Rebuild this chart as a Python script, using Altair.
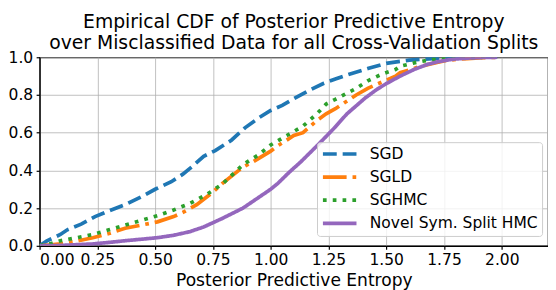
import altair as alt
import pandas as pd

series_names = ["SGD", "SGLD", "SGHMC", "Novel Sym. Split HMC"]
series_colors = ["#1f77b4", "#ff7f0e", "#2ca02c", "#9467bd"]
series_dashes = [[14, 6], [24, 6, 3.75, 6], [3.75, 6.2], [1, 0]]

sgd_x = [0.0, 0.03, 0.09, 0.12, 0.18, 0.24, 0.30, 0.37, 0.44, 0.50, 0.57, 0.62, 0.66, 0.71, 0.76, 0.83,
         0.89, 0.95, 1.0, 1.05, 1.10, 1.17, 1.23, 1.28, 1.34, 1.42, 1.50, 1.60, 1.70, 1.80, 1.90, 1.98]
sgd_y = [0.0, 0.025, 0.06, 0.085, 0.115, 0.155, 0.185, 0.218, 0.26, 0.30, 0.34, 0.38, 0.42, 0.475, 0.505, 0.56,
         0.627, 0.68, 0.718, 0.745, 0.78, 0.827, 0.862, 0.885, 0.91, 0.94, 0.968, 0.985, 0.993, 0.998, 1.0, 1.0]

sgld_x = [0.0, 0.05, 0.09, 0.16, 0.23, 0.30, 0.37, 0.44, 0.51, 0.58, 0.62, 0.68, 0.75, 0.79, 0.88, 0.92, 1.0,
          1.03, 1.10, 1.14, 1.20, 1.24, 1.28, 1.37, 1.42, 1.48, 1.54, 1.56, 1.65, 1.72, 1.77, 1.85, 1.92, 1.98]
sgld_y = [0.0, 0.005, 0.01, 0.025, 0.043, 0.065, 0.093, 0.11, 0.127, 0.155, 0.177, 0.218, 0.285, 0.33, 0.418,
          0.443, 0.502, 0.53, 0.585, 0.60, 0.665, 0.70, 0.727, 0.80, 0.835, 0.868, 0.90, 0.918, 0.952, 0.973,
          0.985, 0.993, 0.998, 1.0]

sghmc_x = [0.0, 0.05, 0.09, 0.16, 0.23, 0.30, 0.37, 0.44, 0.51, 0.58, 0.65, 0.72, 0.79, 0.88, 0.95, 1.0,
           1.07, 1.14, 1.20, 1.24, 1.28, 1.37, 1.42, 1.48, 1.54, 1.56, 1.63, 1.70, 1.78, 1.85, 1.92, 1.98]
sghmc_y = [0.0, 0.012, 0.027, 0.043, 0.06, 0.085, 0.11, 0.135, 0.16, 0.19, 0.225, 0.27, 0.327, 0.43, 0.485,
           0.535, 0.585, 0.635, 0.70, 0.752, 0.777, 0.835, 0.875, 0.91, 0.935, 0.952, 0.973, 0.988, 0.995,
           0.998, 1.0, 1.0]

novel_x = [0.0, 0.09, 0.16, 0.23, 0.30, 0.37, 0.44, 0.51, 0.58, 0.65, 0.71, 0.79, 0.88, 0.94, 1.0, 1.03,
           1.08, 1.13, 1.20, 1.27, 1.33, 1.41, 1.46, 1.50, 1.56, 1.62, 1.68, 1.73, 1.79, 1.86, 1.92, 1.98]
novel_y = [0.0, 0.002, 0.006, 0.01, 0.018, 0.027, 0.035, 0.043, 0.056, 0.075, 0.10, 0.145, 0.20, 0.25, 0.30,
           0.33, 0.39, 0.445, 0.53, 0.618, 0.70, 0.785, 0.83, 0.86, 0.90, 0.935, 0.963, 0.978, 0.99, 0.996,
           0.999, 1.0]

x_ticks = [0.0, 0.25, 0.5, 0.75, 1.0, 1.25, 1.5, 1.75, 2.0]
y_ticks = [0.0, 0.2, 0.4, 0.6, 0.8, 1.0]

rows = []
for name, xs, ys in zip(series_names,
                        [sgd_x, sgld_x, sghmc_x, novel_x],
                        [sgd_y, sgld_y, sghmc_y, novel_y]):
    for i, (xv, yv) in enumerate(zip(xs, ys)):
        rows.append({"series": name, "entropy": xv, "cdf": yv, "order": i})
df = pd.DataFrame(rows)

FONT = "DejaVu Sans"

chart = alt.Chart(df).mark_line(strokeWidth=3.75, strokeCap="butt", clip=True).encode(
    x=alt.X("entropy:Q",
            scale=alt.Scale(domain=[0, 2.2], nice=False, zero=False),
            axis=alt.Axis(values=x_ticks, format=".2f", title="Posterior Predictive Entropy")),
    y=alt.Y("cdf:Q",
            scale=alt.Scale(domain=[0, 1], nice=False),
            axis=alt.Axis(values=y_ticks, format=".1f", title=None)),
    color=alt.Color("series:N", scale=alt.Scale(domain=series_names, range=series_colors), title=None),
    strokeDash=alt.StrokeDash("series:N", scale=alt.Scale(domain=series_names, range=series_dashes), title=None),
    order="order:Q",
).properties(
    width=515,
    height=191,
    padding={"left": 32, "top": 48, "right": 0, "bottom": 55},
    autosize=alt.AutoSizeParams(type="none"),
    title=alt.TitleParams(
        text=["Empirical CDF of Posterior Predictive Entropy",
              "over Misclassified Data for all Cross-Validation Splits"],
        fontSize=19, font=FONT, fontWeight="normal", color="black",
        anchor="middle", frame="group", offset=4, lineHeight=22, dy=8,
    ),
).configure_view(
    stroke="black", strokeWidth=1.2
).configure_axis(
    labelFont=FONT, labelFontSize=15.7, labelColor="black",
    titleFont=FONT, titleFontSize=17.3, titleFontWeight="normal", titleColor="black",
    domainColor="black", domainWidth=1.2, tickColor="black", tickSize=3.5, tickWidth=1.2,
    labelPadding=3.5, gridColor="#b0b0b0", gridWidth=0.8, titlePadding=4,
).configure_legend(
    orient="none", legendX=281, legendY=86,
    symbolType="stroke", symbolSize=1156, symbolStrokeWidth=3.75,
    clipHeight=16, rowPadding=7.4, padding=4, labelOffset=11.4,
    labelFont=FONT, labelFontSize=15.7, labelColor="black", labelLimit=300,
    fillColor="rgba(255,255,255,0.8)", strokeColor="#cccccc", cornerRadius=3,
)

chart.save("out.html", embed_options={"renderer": "svg", "actions": False})
